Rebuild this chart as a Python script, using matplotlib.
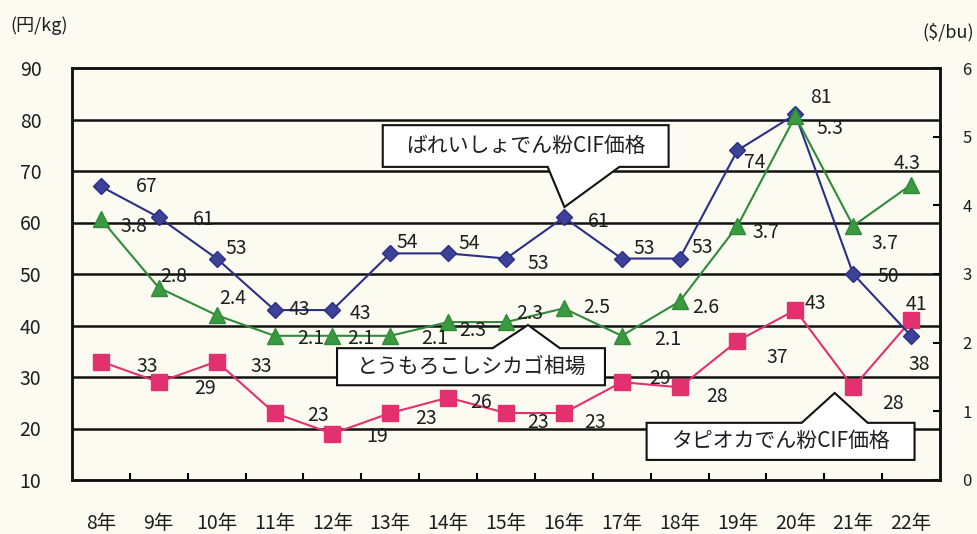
import matplotlib
matplotlib.use('Agg')
import matplotlib.pyplot as plt
from matplotlib.patches import Polygon
from matplotlib.ticker import FixedLocator

plt.rcParams['font.family'] = ['Noto Sans CJK JP', 'DejaVu Sans']

# data
years = ['8年', '9年', '10年', '11年', '12年', '13年', '14年', '15年',
         '16年', '17年', '18年', '19年', '20年', '21年', '22年']
potato = [67, 61, 53, 43, 43, 54, 54, 53, 61, 53, 53, 74, 81, 50, 38]
tapioca = [33, 29, 33, 23, 19, 23, 26, 23, 23, 29, 28, 37, 43, 28, 41]
corn = [3.8, 2.8, 2.4, 2.1, 2.1, 2.1, 2.3, 2.3, 2.5, 2.1, 2.6, 3.7, 5.3, 3.7, 4.3]

# label offsets (pixels, dx, dy up)
potato_off = [(46, 0), (45, -2), (20, 10), (25, 1), (28, -3), (17, 11), (21, 10),
              (32, -5), (35, -4), (23, 10), (23, 11), (17, -12), (26, 17),
              (35, -2), (8, -29)]
tapioca_off = [(46, -5), (46, -6), (45, -5), (43, -2), (45, -3), (36, -5), (33, -5),
               (32, -9), (31, -9), (38, 4), (37, -9), (40, -17), (20, 7),
               (40, -16), (5, 16)]
corn_off = [(33, -7), (15, 11), (16, 17), (36, -3), (28, -3), (44, -3), (25, -8),
            (24, 9), (33, 1), (46, -4), (26, -6), (28, -7), (35, -12),
            (32, -18), (-4, 21)]

bg = '#fbfbf1'
blue = '#2b2f86'
green = '#2f8a3a'
pink = '#e3306f'
txt = '#1e1e1e'

fig = plt.figure(figsize=(9.77, 5.34), dpi=100, facecolor=bg)
ax = fig.add_axes([72 / 977, 1 - 480 / 534, 868 / 977, 412 / 534])
ax.set_facecolor(bg)
x = list(range(len(years)))

ax.set_xlim(-0.5, len(years) - 0.5)
ax.set_ylim(10, 90)
ax.set_yticks(range(10, 91, 10))
for v in range(20, 90, 10):
    ax.axhline(v, color='#111111', lw=1.8, zorder=1)
for s in ax.spines.values():
    s.set_linewidth(1.8)
    s.set_color('#111111')

ax.set_xticks(x)
ax.set_xticklabels(years, fontsize=14, color=txt)
ax.xaxis.set_minor_locator(FixedLocator([i + 0.5 for i in range(len(years) - 1)]))
ax.tick_params(axis='x', which='major', length=0, pad=24)
ax.tick_params(axis='x', which='minor', direction='in', length=5, width=1.5)
ax.tick_params(axis='y', length=0, pad=22, labelsize=14, labelcolor=txt)

ax.plot(x, tapioca, color=pink, lw=1.5, marker='s', ms=11.5, mfc=pink, mec=pink, zorder=4)
ax.plot(x, potato, color=blue, lw=1.5, marker='D', ms=8, mfc='#3d4299', mec=blue, zorder=4)

for i in x:
    ax.annotate(str(potato[i]), (i, potato[i]), xytext=potato_off[i], textcoords='offset pixels',
                ha='center', va='center', fontsize=14, color=txt, zorder=6)
    ax.annotate(str(tapioca[i]), (i, tapioca[i]), xytext=tapioca_off[i], textcoords='offset pixels',
                ha='center', va='center', fontsize=14, color=txt, zorder=6)

ax2 = ax.twinx()
ax2.set_ylim(0, 6)
ax2.set_yticks(range(0, 7))
ax2.tick_params(axis='y', direction='in', length=5, width=1.5, pad=16, labelsize=12,
                labelcolor=txt)
for s in ax2.spines.values():
    s.set_linewidth(1.8)
    s.set_color('#111111')
ax2.plot(x, corn, color=green, lw=1.5, marker='^', ms=11, mfc='#3a9a40', mec=green, zorder=4)
for i in x:
    ax2.annotate(str(corn[i]), (i, corn[i]), xytext=corn_off[i], textcoords='offset pixels',
                 ha='center', va='center', fontsize=14, color=txt, zorder=6)

# callout boxes
callouts = [
    ('ばれいしょでん粉CIF価格',
     [(4.87, 78.9), (9.81, 78.9), (9.81, 70.8), (8.96, 70.8), (8.01, 63.0),
      (7.72, 70.8), (4.87, 70.8)], (7.34, 74.9)),
    ('とうもろこしシカゴ相場',
     [(4.08, 35.6), (6.77, 35.6), (7.38, 40.1), (7.93, 35.6), (8.71, 35.6),
      (8.71, 28.4), (4.08, 28.4)], (6.40, 32.0)),
    ('タピオカでん粉CIF価格',
     [(9.43, 21.1), (12.11, 21.1), (12.68, 26.9), (13.25, 21.1), (14.06, 21.1),
      (14.06, 13.9), (9.43, 13.9)], (11.75, 17.5)),
]
for label, pts, center in callouts:
    ax.add_patch(Polygon(pts, closed=True, facecolor='white', edgecolor='#111111',
                         lw=1.5, zorder=3))
    ax.text(center[0], center[1], label, ha='center', va='center', fontsize=15,
            color=txt, zorder=5)

fig.text(10 / 977, 1 - 26 / 534, '(円/kg)', fontsize=13, ha='left', va='center', color=txt)
fig.text(974 / 977, 1 - 32 / 534, '($/bu)', fontsize=13, ha='right', va='center', color=txt)

fig.savefig('out.png', dpi=100, facecolor=bg)
